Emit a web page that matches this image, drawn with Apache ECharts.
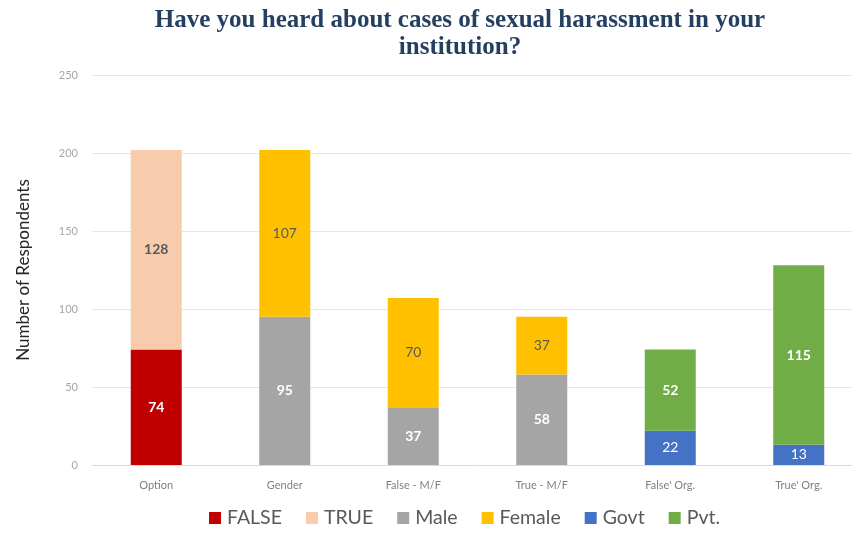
<!DOCTYPE html>
<html><head><meta charset="utf-8">
<script src="https://cdn.jsdelivr.net/npm/echarts@6/dist/echarts.min.js"></script>
<style>html,body{margin:0;padding:0;background:#fff}#c{width:852px;height:533px}</style>
</head><body><div id="c"></div>
<script>
const categories = ['Option', 'Gender', 'False - M/F', 'True - M/F', "False' Org.", "True' Org."];
const falseVals  = [74, null, null, null, null, null];
const trueVals   = [128, null, null, null, null, null];
const maleVals   = [null, 95, 37, 58, null, null];
const femaleVals = [null, 107, 70, 37, null, null];
const govtVals   = [null, null, null, null, 22, 13];
const pvtVals    = [null, null, null, null, 52, 115];
const yTicks = [0, 50, 100, 150, 200, 250];

const chart = echarts.init(document.getElementById('c'));
const lblFont = 'Lato, "Open Sans", sans-serif';
function mk(name, data, color, lblColor, bold) {
  return {
    name, type: 'bar', stack: 'all', data, barWidth: 51,
    itemStyle: { color },
    label: { show: true, position: 'inside', color: lblColor, fontSize: 14,
      fontWeight: bold ? 'bold' : 'normal', fontFamily: lblFont },
    emphasis: { disabled: true }
  };
}
chart.setOption({
  animation: false,
  title: {
    text: 'Have you heard about cases of sexual harassment in your\ninstitution?',
    left: 455, top: 2, textAlign: 'center',
    textStyle: { fontFamily: '"Liberation Serif", serif', fontWeight: 'bold', fontSize: 25,
      color: '#243F60', lineHeight: 27 }
  },
  grid: { left: 92, top: 75, width: 771, height: 390, outerBoundsMode: 'none', containLabel: false },
  legend: {
    bottom: 0, left: 204, itemWidth: 12, itemHeight: 12, itemGap: 24,
    icon: 'rect',
    textStyle: { fontSize: 19.5, color: '#595959', fontFamily: lblFont, padding: [0, 0, 0, 1] },
    data: ['FALSE', 'TRUE', 'Male', 'Female', 'Govt', 'Pvt.']
  },
  xAxis: {
    type: 'category', data: categories,
    axisTick: { show: false },
    axisLine: { lineStyle: { color: '#d9d9d9' } },
    axisLabel: { color: '#7f7f7f', fontSize: 11, margin: 15, fontFamily: lblFont }
  },
  yAxis: {
    type: 'value', min: yTicks[0], max: yTicks[yTicks.length - 1], interval: 50,
    name: 'Number of Respondents', nameLocation: 'middle', nameGap: 60,
    nameTextStyle: { fontSize: 17, color: '#262626', fontFamily: lblFont },
    axisLabel: { color: '#a6a6a6', fontSize: 11, margin: 14, fontFamily: lblFont },
    splitLine: { lineStyle: { color: '#e6e6e6' } },
    axisLine: { show: false }, axisTick: { show: false }
  },
  series: [
    mk('FALSE', falseVals, '#C00000', '#ffffff', true),
    mk('TRUE', trueVals, '#F8CBAD', '#595959', true),
    mk('Male', maleVals, '#A5A5A5', '#ffffff', true),
    mk('Female', femaleVals, '#FFC000', '#595959', false),
    mk('Govt', govtVals, '#4472C4', '#ffffff', false),
    mk('Pvt.', pvtVals, '#70AD47', '#ffffff', true)
  ]
});
</script></body></html>
